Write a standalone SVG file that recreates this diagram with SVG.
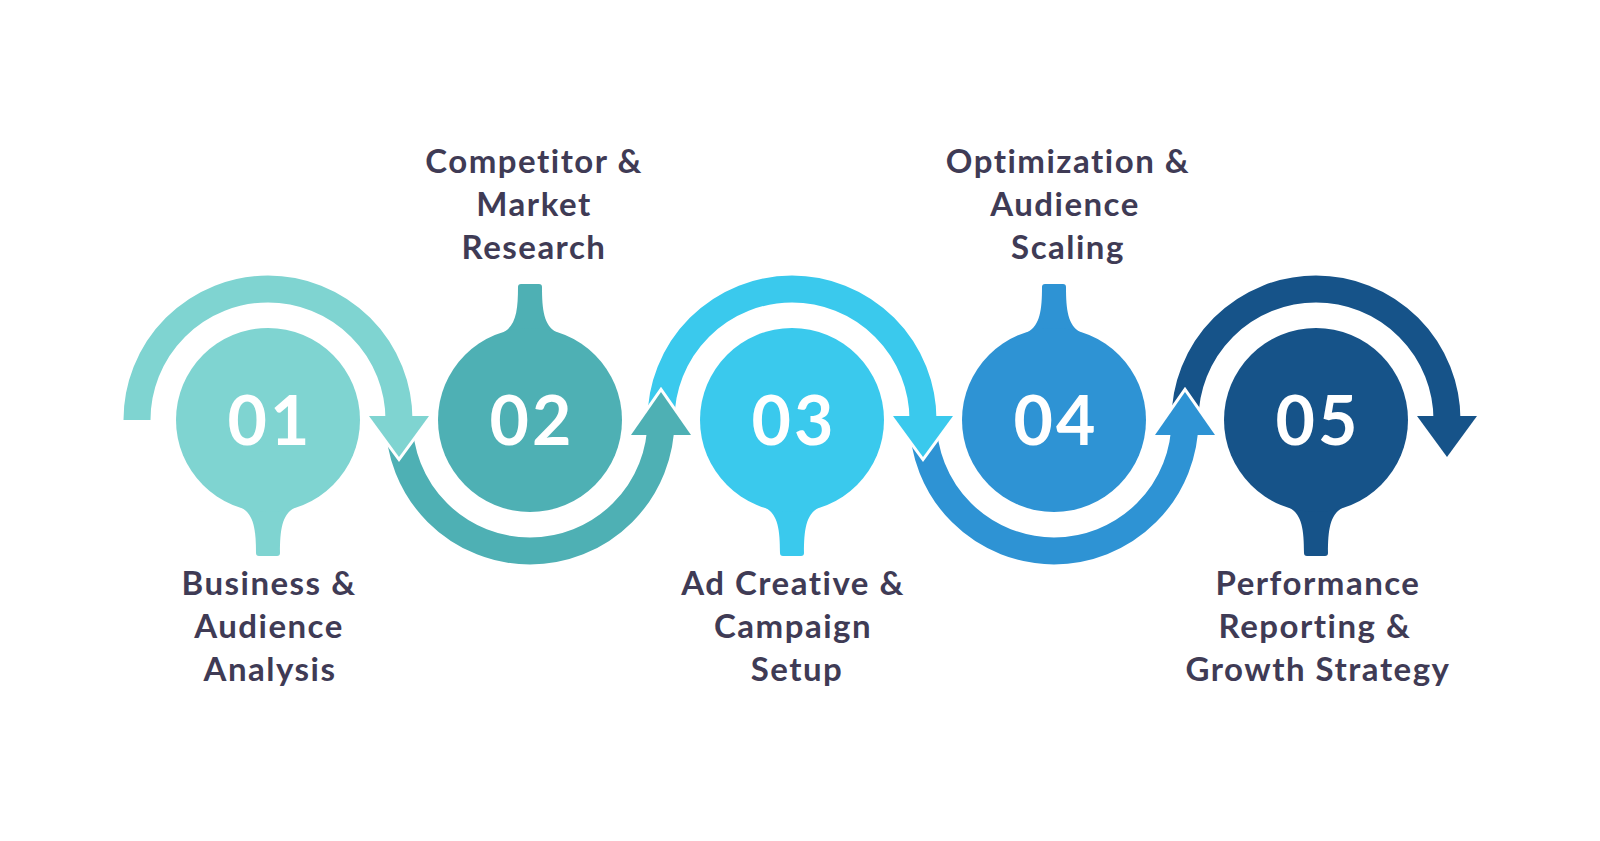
<svg xmlns="http://www.w3.org/2000/svg" width="1600" height="841" viewBox="0 0 1600 841">
<style>
.arc{fill:none;stroke-width:27;stroke-linecap:butt}
.head{stroke:#ffffff;stroke-width:6;paint-order:stroke;stroke-linejoin:miter;stroke-miterlimit:10}
.num{font-family:Lato,"Liberation Sans",sans-serif;font-weight:700;font-size:68px;letter-spacing:3px;fill:#ffffff;text-anchor:middle}
.lbl{font-family:Lato,"Liberation Sans",sans-serif;font-weight:700;font-size:33px;letter-spacing:1.5px;fill:#3f3b55;text-anchor:middle}
.c1{fill:#7fd4d1}.c2{fill:#4eb0b4}.c3{fill:#3ac9ed}.c4{fill:#2e93d4}.c5{fill:#165389}
</style>
<rect width="1600" height="841" fill="#ffffff"/>
<g id="connectors">
<path class="arc" stroke="#7fd4d1" d="M137 420 A131 131 0 0 1 399 420"/>
<path class="arc" stroke="#4eb0b4" d="M399 420 A131 131 0 0 0 661 420"/>
<path class="arc" stroke="#3ac9ed" d="M661 420 A131 131 0 0 1 923 420"/>
<path class="arc" stroke="#2e93d4" d="M923 420 A131 131 0 0 0 1185 420"/>
<path class="arc" stroke="#165389" d="M1185 420 A131 131 0 0 1 1447 420"/>
<path class="head c1" d="M369 416 L399 457 L429 416"/>
<path class="head c2" d="M631 435 L661 392 L691 435"/>
<path class="head c3" d="M893 416 L923 457 L953 416"/>
<path class="head c4" d="M1155 435 L1185 392 L1215 435"/>
<path class="head c5" d="M1417 416 L1447 457 L1477 416"/>
</g>
<g id="node1">
<path class="c1" d="M242 508 C254 515 256 530 256 553 Q256 556 259 556 L277 556 Q280 556 280 553 C280 530 282 515 294 508 Z"/>
<circle class="c1" cx="268" cy="420" r="92"/>
<text class="num" x="270" y="445">01</text>
<text class="lbl"><tspan x="269" y="595">Business &amp;</tspan><tspan x="269" y="638">Audience</tspan><tspan x="270" y="681">Analysis</tspan></text>
</g>
<g id="node2">
<path class="c2" d="M504 332 C516 325 518 310 518 287 Q518 284 521 284 L539 284 Q542 284 542 287 C542 310 544 325 556 332 Z"/>
<circle class="c2" cx="530" cy="420" r="92"/>
<text class="num" x="532" y="445">02</text>
<text class="lbl"><tspan x="534" y="173">Competitor &amp;</tspan><tspan x="534" y="216">Market</tspan><tspan x="534" y="259">Research</tspan></text>
</g>
<g id="node3">
<path class="c3" d="M766 508 C778 515 780 530 780 553 Q780 556 783 556 L801 556 Q804 556 804 553 C804 530 806 515 818 508 Z"/>
<circle class="c3" cx="792" cy="420" r="92"/>
<text class="num" x="794" y="445">03</text>
<text class="lbl"><tspan x="793" y="595">Ad Creative &amp;</tspan><tspan x="793" y="638">Campaign</tspan><tspan x="797" y="681">Setup</tspan></text>
</g>
<g id="node4">
<path class="c4" d="M1028 332 C1040 325 1042 310 1042 287 Q1042 284 1045 284 L1063 284 Q1066 284 1066 287 C1066 310 1068 325 1080 332 Z"/>
<circle class="c4" cx="1054" cy="420" r="92"/>
<text class="num" x="1056" y="445">04</text>
<text class="lbl"><tspan x="1068" y="173">Optimization &amp;</tspan><tspan x="1065" y="216">Audience</tspan><tspan x="1068" y="259">Scaling</tspan></text>
</g>
<g id="node5">
<path class="c5" d="M1290 508 C1302 515 1304 530 1304 553 Q1304 556 1307 556 L1325 556 Q1328 556 1328 553 C1328 530 1330 515 1342 508 Z"/>
<circle class="c5" cx="1316" cy="420" r="92"/>
<text class="num" x="1318" y="445">05</text>
<text class="lbl"><tspan x="1318" y="595">Performance</tspan><tspan x="1315" y="638">Reporting &amp;</tspan><tspan x="1318" y="681">Growth Strategy</tspan></text>
</g>
</svg>
